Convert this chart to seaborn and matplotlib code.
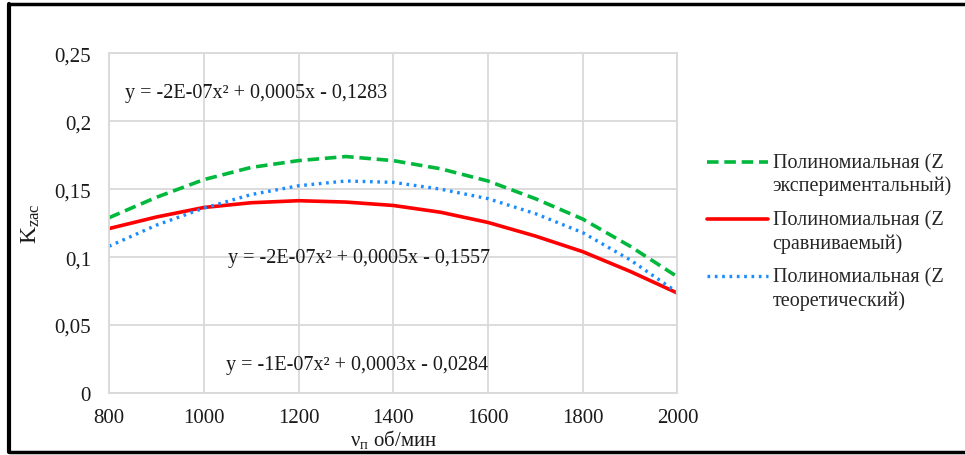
import pandas as pd
import matplotlib.pyplot as plt
import seaborn as sns
from matplotlib.lines import Line2D
from matplotlib.legend_handler import HandlerLine2D

# значения
rpm = [800, 900, 1000, 1100, 1200, 1300, 1400, 1500, 1600, 1700, 1800, 1900, 2000]
k_exp = [0.129, 0.144, 0.157, 0.166, 0.171, 0.174, 0.171, 0.165, 0.156, 0.143, 0.128, 0.108, 0.0855]
k_cmp = [0.121, 0.1295, 0.1365, 0.140, 0.1415, 0.1405, 0.138, 0.133, 0.1255, 0.1155, 0.104, 0.0895, 0.0735]
k_theor = [0.108, 0.1235, 0.136, 0.146, 0.1525, 0.156, 0.155, 0.150, 0.143, 0.132, 0.118, 0.098, 0.074]

labels = ['Полиномиальная (Z\nэкспериментальный)',
          'Полиномиальная (Z\nсравниваемый)',
          'Полиномиальная (Z\nтеоретический)']
equations = ['y = -2E-07x² + 0,0005x - 0,1283',
             'y = -2E-07x² + 0,0005x - 0,1557',
             'y = -1E-07x² + 0,0003x - 0,0284']
eq_pos = [(834, 0.2213), (1051, 0.1000), (1047, 0.0213)]

x_ticks = [800, 1000, 1200, 1400, 1600, 1800, 2000]
y_ticks = [0, 0.05, 0.1, 0.15, 0.2, 0.25]
y_tick_labels = ['0', '0,05', '0,1', '0,15', '0,2', '0,25']

df = pd.DataFrame({'rpm': rpm, 'exp': k_exp, 'cmp': k_cmp, 'theor': k_theor})


# маркер легенды на уровне первой строки подписи, как в Excel
class FirstLineHandler(HandlerLine2D):
    def create_artists(self, legend, orig_handle, xdescent, ydescent, width, height, fontsize, trans):
        arts = super().create_artists(legend, orig_handle, xdescent, ydescent, width, height, fontsize, trans)
        for a in arts:
            a.set_ydata([y + 0.62 * fontsize for y in a.get_ydata()])
        return arts


sns.set_theme(style='white')
plt.rcParams['font.family'] = ['Liberation Serif', 'DejaVu Serif']
plt.rcParams['mathtext.default'] = 'regular'

fig = plt.figure(figsize=(9.65, 4.56), dpi=100)
ax = fig.add_axes([0.113, 0.136, 0.589, 0.745])

sns.lineplot(data=df, x='rpm', y='exp', ax=ax, color='#00B83C', lw=2.6,
             linestyle=(0, (3.2, 1.6)), label=labels[0])
sns.lineplot(data=df, x='rpm', y='cmp', ax=ax, color='#FF0000', lw=2.6,
             label=labels[1])
sns.lineplot(data=df, x='rpm', y='theor', ax=ax, color='#1A8CFF', lw=2.4,
             linestyle=(0, (0.8, 1.4)), label=labels[2])

for eq, (ex, ey) in zip(equations, eq_pos):
    ax.text(ex, ey, eq, fontsize=14.5, va='center', ha='left', color='#1a1a1a')

ax.set_xlim(800, 2000)
ax.set_ylim(0, 0.25)
ax.set_xticks(x_ticks)
ax.set_yticks(y_ticks)
ax.set_yticklabels(y_tick_labels)
ax.tick_params(labelsize=15, colors='#1a1a1a', length=0)
ax.tick_params(axis='y', pad=13)
ax.tick_params(axis='x', pad=11)
ax.grid(True, color='#d9d9d9', lw=1.3)
for s in ax.spines.values():
    s.set_color('#d9d9d9')
    s.set_linewidth(1.3)

ax.set_xlabel('ν$_п$ об/мин', fontsize=15, color='#1a1a1a', labelpad=0)
ax.set_ylabel('K$_{zac}$', fontsize=17, color='#1a1a1a', labelpad=9)

ax.legend(loc='center left', bbox_to_anchor=(0.714, 0.49), bbox_transform=fig.transFigure,
          frameon=False, fontsize=14.5, handlelength=3.0, handletextpad=0.25,
          labelspacing=0.75, handler_map={Line2D: FirstLineHandler()})

# рамка вокруг рисунка
fig.add_artist(Line2D([0.0095, 0.0095], [0.006, 0.988], transform=fig.transFigure, color='black', lw=3))
fig.add_artist(Line2D([0.0095, 1.0], [0.988, 0.988], transform=fig.transFigure, color='black', lw=2.5))
fig.add_artist(Line2D([0.0095, 1.0], [0.006, 0.006], transform=fig.transFigure, color='black', lw=2.5))

fig.savefig('out.png', dpi=100)
